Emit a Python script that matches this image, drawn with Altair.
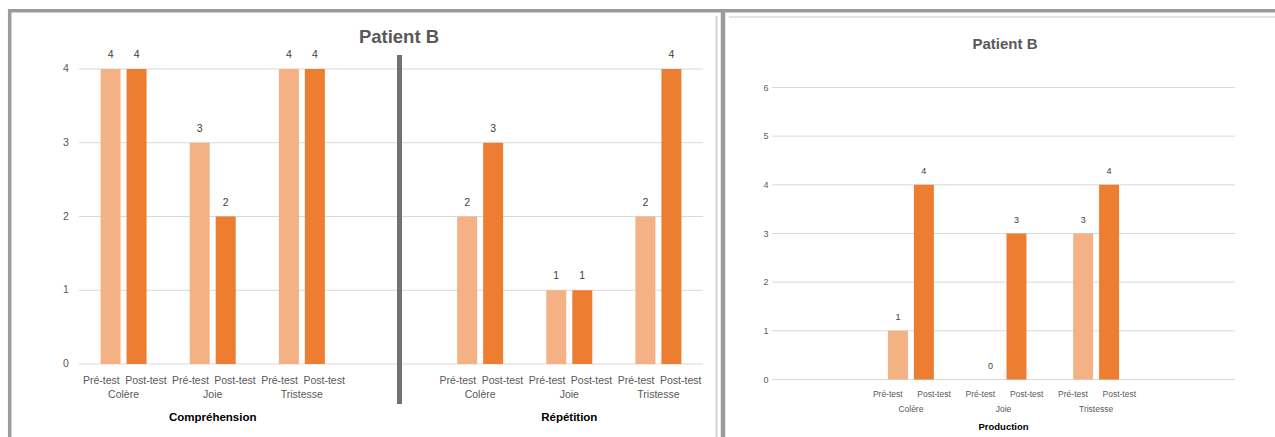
import altair as alt
import pandas as pd

title_text = "Patient B"
emotions = ["Colère", "Joie", "Tristesse"]
tests = ["Pré-test", "Post-test"]
comprehension_pre = [4, 3, 4]
comprehension_post = [4, 2, 4]
repetition_pre = [2, 1, 2]
repetition_post = [3, 1, 4]
production_pre = [1, 0, 3]
production_post = [4, 3, 4]
left_ticks = [0, 1, 2, 3, 4]
right_ticks = [0, 1, 2, 3, 4, 5, 6]
bar_colors = ["#F4B183", "#ED7D31"]

FONT = "Liberation Sans, Arial, sans-serif"
GRAY = "#595959"


def bar_rows(section, pre, post):
    out = []
    for i, e in enumerate(emotions):
        slot = f"{section}|{e}"
        out.append(dict(section=section, emotion=e, slot=slot, test=tests[0], value=pre[i]))
        out.append(dict(section=section, emotion=e, slot=slot, test=tests[1], value=post[i]))
    return out


left_bars = pd.DataFrame(bar_rows("Compréhension", comprehension_pre, comprehension_post)
                         + bar_rows("Répétition", repetition_pre, repetition_post))
right_bars = pd.DataFrame(bar_rows("Production", production_pre, production_post))

left_domain = [f"Compréhension|{e}" for e in emotions] + ["_gap"] + [f"Répétition|{e}" for e in emotions]
right_domain = ["_l"] + [f"Production|{e}" for e in emotions] + ["_r"]

left_emo = left_bars[["slot", "emotion"]].drop_duplicates()
right_emo = right_bars[["slot", "emotion"]].drop_duplicates()
left_sec = pd.DataFrame({"section": ["Compréhension", "Répétition"],
                         "slot": ["Compréhension|Joie", "Répétition|Joie"]})
right_sec = pd.DataFrame({"section": ["Production"], "slot": ["Production|Joie"]})

one = pd.DataFrame({"k": [0]})


def panel(bars, emo, sec, domain, xr, ymax, yr, ticks, po, tick_x, sizes, ys):
    fs_tick, fs_val, fs_lab, fs_sec = sizes
    y_test, y_emo, y_sec = ys
    X = alt.X("slot:N", scale=alt.Scale(type="band", domain=domain, range=xr, paddingInner=0, paddingOuter=0),
              axis=None)
    XO = alt.XOffset("test:N", scale=alt.Scale(type="band", domain=tests, paddingInner=0.23, paddingOuter=po))
    XL = alt.XOffset("test:N", scale=alt.Scale(type="band", domain=tests, paddingInner=0, paddingOuter=0))
    Y = alt.Y("value:Q", scale=alt.Scale(domain=[0, ymax], range=yr, nice=False, zero=True), axis=None)
    YT = alt.Y("tick:Q", scale=alt.Scale(domain=[0, ymax], range=yr, nice=False, zero=True), axis=None)
    tdf = pd.DataFrame({"tick": ticks})

    grid = alt.Chart(tdf).mark_rule(color="#D9D9D9", strokeWidth=1).encode(
        y=YT, x=alt.value(xr[0]), x2=alt.value(xr[1]))
    tlab = alt.Chart(tdf).mark_text(font=FONT, fontSize=fs_tick, color=GRAY, baseline="middle").encode(
        y=YT, x=alt.value(tick_x), text="tick:Q")
    b = alt.Chart(bars).mark_bar().encode(
        x=X, xOffset=XO, y=Y,
        color=alt.Color("test:N", scale=alt.Scale(domain=tests, range=bar_colors), legend=None))
    vlab = alt.Chart(bars).mark_text(font=FONT, fontSize=fs_val, color="#404040", baseline="middle", dy=-14).encode(
        x=X, xOffset=XO, y=Y, text="value:Q")
    testlab = alt.Chart(bars).mark_text(font=FONT, fontSize=fs_lab, color=GRAY, baseline="middle").encode(
        x=X, xOffset=XL, y=alt.value(y_test), text="test:N")
    emolab = alt.Chart(emo).mark_text(font=FONT, fontSize=fs_lab, color=GRAY, baseline="middle").encode(
        x=X, y=alt.value(y_emo), text="emotion:N")
    seclab = alt.Chart(sec).mark_text(font=FONT, fontSize=fs_sec, fontWeight="bold", color="#000000",
                                      baseline="middle").encode(
        x=X, y=alt.value(y_sec), text="section:N")
    return [grid, tlab, b, vlab, testlab, emolab, seclab]


left_layers = panel(left_bars, left_emo, left_sec, left_domain, [79, 703], 4, [364, 69],
                    left_ticks, 0.83, 66, (10.5, 10.5, 10.5, 11.5), (381, 395, 418))
right_layers = panel(right_bars, right_emo, right_sec, right_domain, [772, 1235], 6, [379.5, 87.5],
                     right_ticks, 0.9, 766, (9, 9, 8.5, 9.5), (394, 409, 427))

title_left = alt.Chart(one).mark_text(text=title_text, font=FONT, fontSize=18.5, fontWeight="bold",
                                      color=GRAY, baseline="middle").encode(
    x=alt.value(399), y=alt.value(37))
title_right = alt.Chart(one).mark_text(text=title_text, font=FONT, fontSize=15, fontWeight="bold",
                                       color=GRAY, baseline="middle").encode(
    x=alt.value(1005), y=alt.value(44))
separator = alt.Chart(one).mark_rule(color="#767171", strokeWidth=5).encode(
    x=alt.value(399.5), y=alt.value(55), y2=alt.value(404))

FRAME = "#9B9B9B"
frames = [
    alt.Chart(one).mark_rule(color=FRAME, strokeWidth=3.5).encode(
        x=alt.value(8), x2=alt.value(1275), y=alt.value(10.7)),
    alt.Chart(one).mark_rule(color=FRAME, strokeWidth=3.5).encode(
        x=alt.value(9.7), y=alt.value(9), y2=alt.value(437)),
    alt.Chart(one).mark_rule(color=FRAME, strokeWidth=4.5).encode(
        x=alt.value(723), y=alt.value(9), y2=alt.value(437)),
    alt.Chart(one).mark_rule(color="#D3D3D3", strokeWidth=2).encode(
        x=alt.value(716.5), y=alt.value(16), y2=alt.value(437)),
    alt.Chart(one).mark_rule(color="#D9D9D9", strokeWidth=1.5).encode(
        x=alt.value(729), x2=alt.value(1275), y=alt.value(17)),
]

chart = alt.layer(*(left_layers + right_layers + [title_left, title_right, separator] + frames)).resolve_scale(
    x="independent", y="independent", xOffset="independent", color="independent"
).properties(
    width=1275, height=437, padding=0, autosize=alt.AutoSizeParams(type="none"), background="white"
).configure_view(stroke=None)

chart.save("out.html", embed_options={"renderer": "svg", "actions": False})
